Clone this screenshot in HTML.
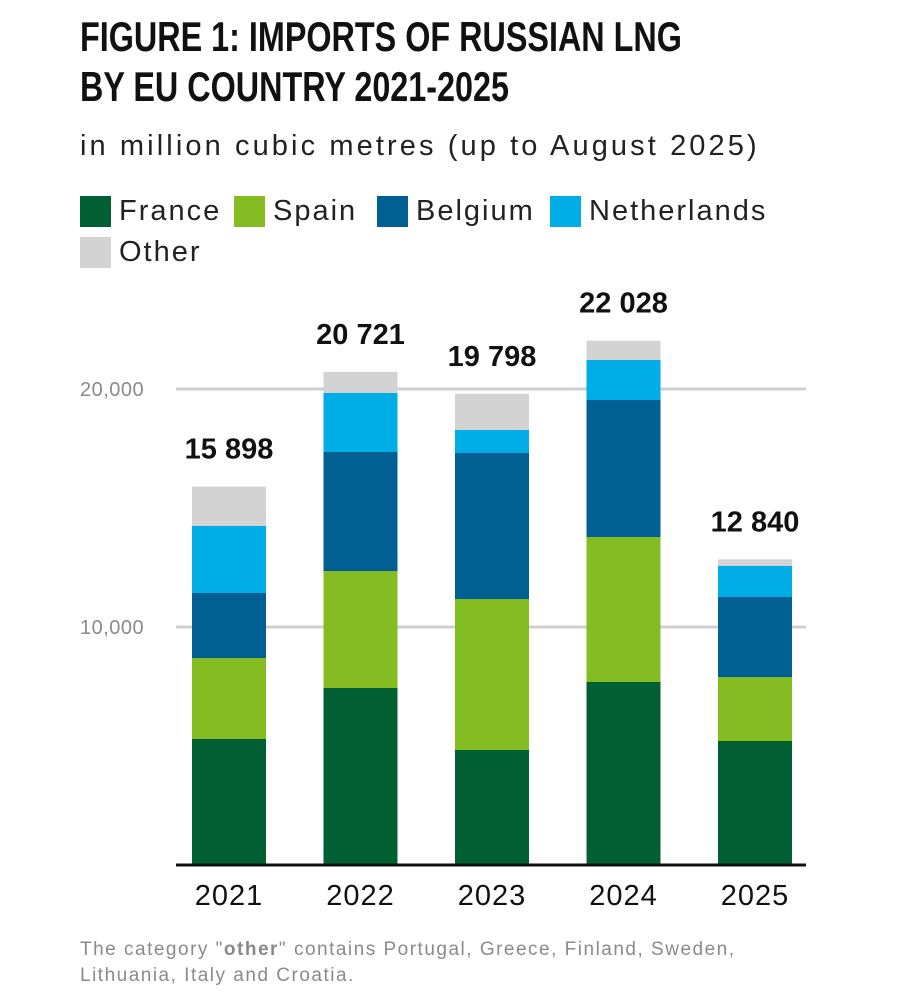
<!DOCTYPE html>
<html><head><meta charset="utf-8"><style>
body{margin:0;width:898px;height:1000px;background:#fff;font-family:"Liberation Sans",sans-serif;position:relative;overflow:hidden}
.t{position:absolute;left:80px;font-family:"Liberation Sans Narrow","Liberation Sans",sans-serif;font-weight:bold;font-size:42px;line-height:50px;color:#111;transform:scaleX(0.77);transform-origin:left;white-space:nowrap}
.sub{position:absolute;left:80px;top:130px;font-size:29px;color:#222;letter-spacing:3.1px;white-space:nowrap}
.leg{position:absolute;font-size:29px;color:#222;display:flex;align-items:center;letter-spacing:2px;white-space:nowrap}
.sw{width:31px;height:31px;margin-right:8px}
.note{position:absolute;left:80px;top:937px;font-size:19px;line-height:26px;color:#8a8a8a;letter-spacing:1.5px;white-space:nowrap}
</style></head><body>
<div class="t" style="top:12px">FIGURE 1: IMPORTS OF RUSSIAN LNG<br>BY EU COUNTRY 2021-2025</div>
<div class="sub">in million cubic metres (up to August 2025)</div>
<div class="leg" style="left:80px;top:195px"><div class="sw" style="background:#005f33"></div>France</div>
<div class="leg" style="left:234px;top:195px"><div class="sw" style="background:#84bc22"></div>Spain</div>
<div class="leg" style="left:377px;top:195px"><div class="sw" style="background:#006094"></div>Belgium</div>
<div class="leg" style="left:550px;top:195px"><div class="sw" style="background:#00ade6"></div>Netherlands</div>
<div class="leg" style="left:80px;top:236px"><div class="sw" style="background:#d3d3d3"></div>Other</div>
<svg id="chart" width="898" height="1000" style="position:absolute;left:0;top:0"></svg>
<div class="note">The category "<b>other</b>" contains Portugal, Greece, Finland, Sweden,<br>Lithuania, Italy and Croatia.</div>
<script>
const years=["2021","2022","2023","2024","2025"];
const france=[5294,7437,4832,7689,5210];
const spain=[3403,4916,6344,6093,2689];
const belgium=[2732,5000,6135,5756,3362];
const netherlands=[2815,2479,966,1680,1302];
const other=[1654,889,1521,810,277];
const totals=[15898,20721,19798,22028,12840];
const totalLabels=["15 898","20 721","19 798","22 028","12 840"];
const yTicks=[10000,20000];
const yTickLabels=["10,000","20,000"];
const NS="http://www.w3.org/2000/svg";
const svg=document.getElementById('chart');
const y0=865,k=0.0238;
const y=v=>y0-v*k;
const x=i=>192+i*131.5;
const bw=74;
function mk(t,a){const e=document.createElementNS(NS,t);for(const n in a)e.setAttribute(n,a[n]);svg.appendChild(e);return e;}
yTicks.forEach((v,i)=>{
 const l=mk('line',{x1:176,x2:806,y1:y(v),y2:y(v),stroke:'#cfcfcf','stroke-width':3});
 
 
 const t=mk('text',{x:80,y:y(v)+7,'font-size':20,fill:'#8a8a8a','font-family':'Liberation Sans, sans-serif','letter-spacing':'0.5'});
 t.textContent=yTickLabels[i];
 
 
});
const series=[["france",france,"#005f33"],["spain",spain,"#84bc22"],["belgium",belgium,"#006094"],["netherlands",netherlands,"#00ade6"],["other",other,"#d3d3d3"]];
years.forEach((yr,i)=>{
 let acc=0;
 series.forEach(s=>{
  const v=s[1][i];
  const r=mk('rect',{x:x(i),y:y(acc+v),width:bw,height:v*k,fill:s[2]});
  
  
  acc+=v;
 });
 const t=mk('text',{x:x(i)+bw/2,y:y(totals[i])-28,'font-size':29,'font-weight':'bold','text-anchor':'middle',fill:'#111','font-family':'Liberation Sans, sans-serif'});
 t.textContent=totalLabels[i];
 
 
 const xl=mk('text',{x:x(i)+bw/2,y:905,'font-size':29,'text-anchor':'middle',fill:'#111','font-family':'Liberation Sans, sans-serif','letter-spacing':'1'});
 xl.textContent=yr;
 
 
});
const ax=mk('line',{x1:176,x2:806,y1:y0,y2:y0,stroke:'#111','stroke-width':3});


</script>
</body></html>
